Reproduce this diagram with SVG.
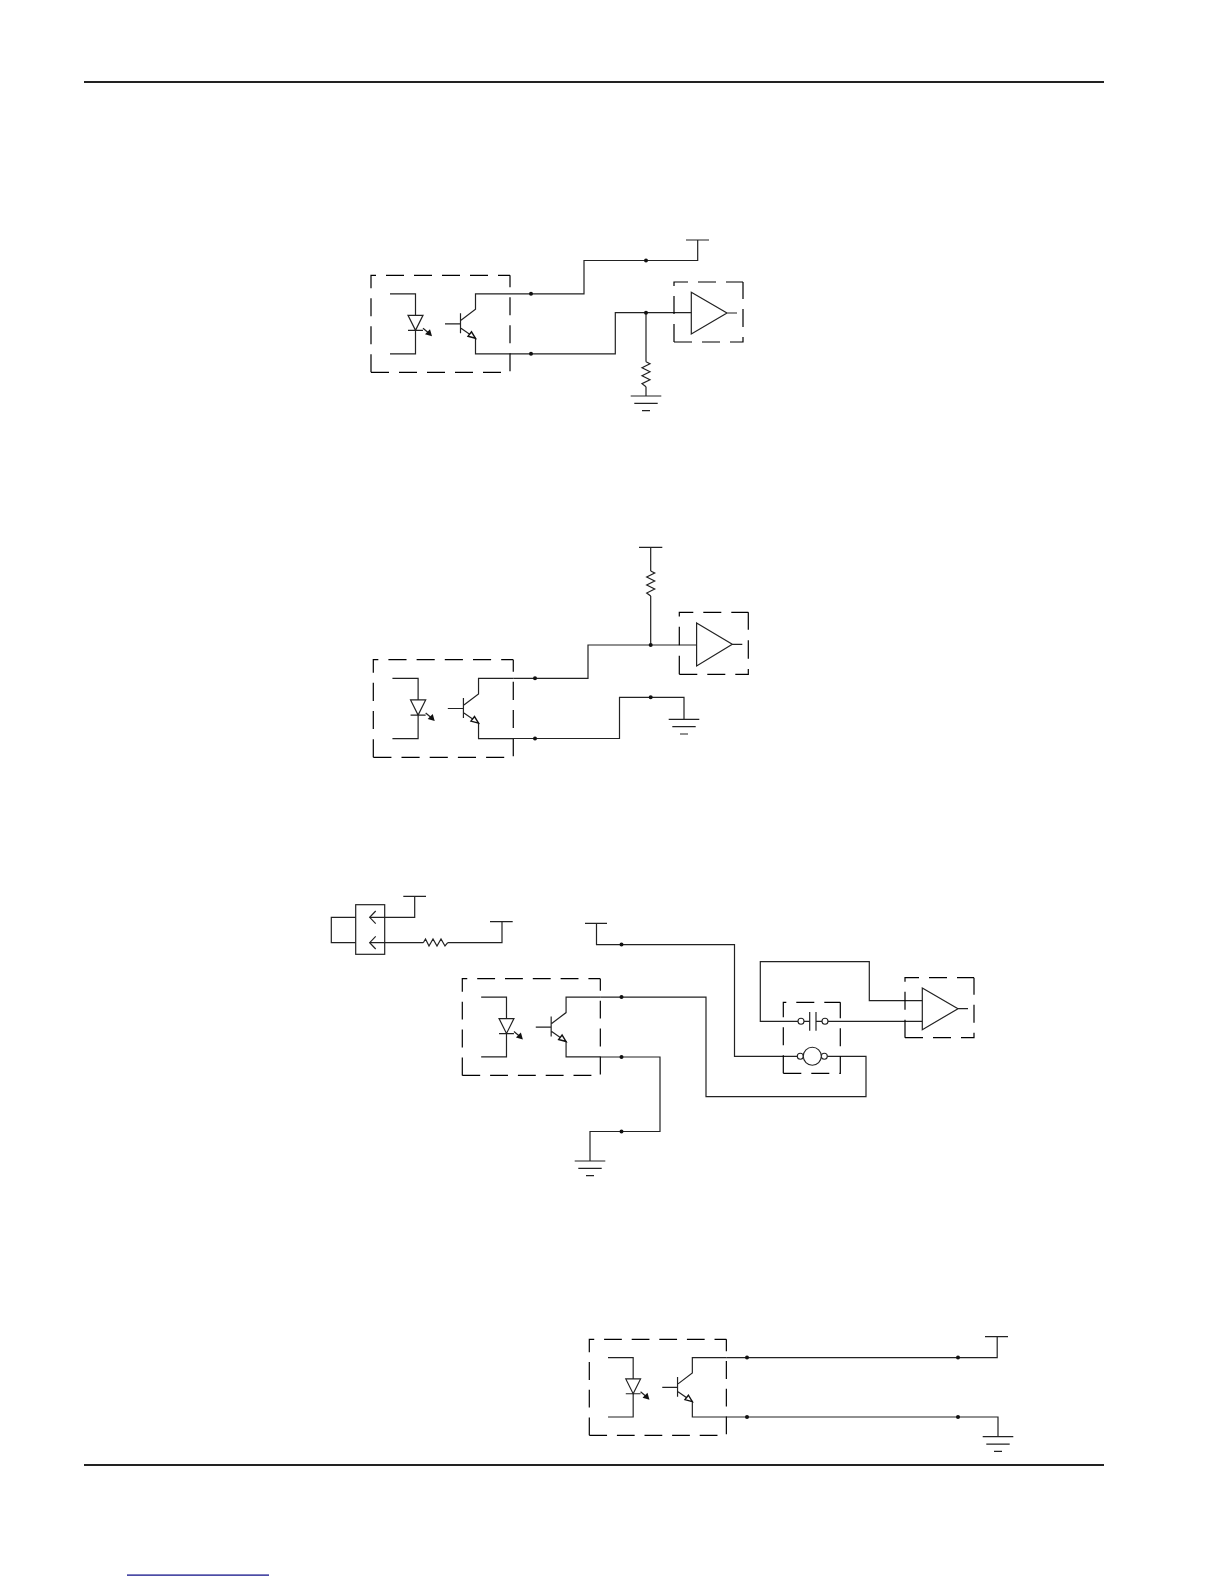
<svg xmlns="http://www.w3.org/2000/svg" width="1224" height="1584" viewBox="0 0 1224 1584">
<style>
.w{fill:none;stroke:#222;stroke-width:1.2}
.d{fill:none;stroke:#000;stroke-width:1.2;stroke-dasharray:18 10}
.n{fill:#111}
.h{fill:#111;stroke:none}
.o{fill:#fff;stroke:#222;stroke-width:1.1}
</style>
<defs>
<g id="opto">
<path class="d" d="M0 97V0H139"/>
<path class="d" d="M0 97H139V0"/>
<path class="w" d="M19 18.5H44.5V40M44.5 55V78.5H19"/>
<path class="w" d="M37 40H52L44.5 55ZM37 55H52M52 53L58 58"/>
<polygon class="h" points="61,61 54,59 59,54"/>
<path class="w" d="M74 48.5H89.5M89.5 38V58M90 45L104.5 34V18.5H139M90 53L104.5 63V78.5H139"/>
<polygon class="o" points="104.5,63 97,61 100.5,56.5" style="stroke:#111;stroke-width:1.4"/>
</g>
<g id="amp">
<path class="d" d="M0 60V0H69"/>
<path class="d" d="M0 60H69V0"/>
<path class="w" d="M17.3 10.3L53 31L17.3 52ZM53 31H63"/>
</g>
<g id="gnd">
<path class="w" d="M-15.3 0H15.3M-11.7 7.4H11.7M-4 14.7H4"/>
</g>
<path id="resv" class="w" d="M0 0L4 2L-4 6L4 10L-4 14L4 18L-4 22L0 25"/>
</defs>

<rect x="84" y="81" width="1020" height="2" fill="#222"/>
<rect x="84" y="1464" width="1020" height="2" fill="#222"/>
<rect x="127" y="1574.5" width="142" height="1.2" fill="#000080"/>

<g id="connectors">
<!-- circuit 1 -->
<path class="w" d="M510 293.8H584V260.5H697.7V240M686 240H709"/>
<path class="w" d="M510 353.8H615.3V312.7H691.3M646 312.7V361.7M646 386.7V396"/>
<!-- circuit 2 -->
<path class="w" d="M639 547.3H662.3M650.7 547.3V571M650.7 596V645"/>
<path class="w" d="M513.3 678.3H588V645H696"/>
<path class="w" d="M513.3 738.5H619.5V697.3H684V719.3"/>
<!-- circuit 3 -->
<path class="w" d="M600.3 997.1H706V1096.6H866V1056.3H827"/>
<path class="w" d="M600.3 1057H660V1131.5H590V1161"/>
<path class="w" d="M585 923.4H607M596.5 923.4V944.6H734.5V1056.3H797"/>
<path class="w" d="M798 1021.3H760.3V961.7H869.3V1000.7H922.3"/>
<path class="w" d="M828 1021.3H922.3"/>
<!-- circuit 4 -->
<path class="w" d="M726.3 1357.6H997.2V1336.6M985 1336.6H1008"/>
<path class="w" d="M726.3 1417H998V1436.7"/>
<!-- switch block wiring -->
<path class="w" d="M355.7 917.3H331.3V942.7H355.7"/>
<path class="w" d="M369.7 917.3H414.7V896.3M403.3 896.3H426"/>
<path class="w" d="M369.7 942.7H423.3M447.7 942.7H502V921.7M490 921.7H512.7"/>
</g>

<g id="circuit1">
<use id="opto1" href="#opto" transform="translate(371 275.3)"/>
<use id="amp1" href="#amp" x="674" y="282"/>
<use id="res1" href="#resv" x="646" y="361.7"/>
<use id="gnd1" href="#gnd" x="646" y="396"/>
<g id="nodes1" class="n"><circle cx="531" cy="293.8" r="2"/><circle cx="531" cy="353.8" r="2"/><circle cx="646" cy="260.5" r="2"/><circle cx="646" cy="312.7" r="2"/></g>
</g>

<g id="circuit2">
<use id="opto2" href="#opto" transform="translate(373.3 659.7) scale(1.007 1.006)"/>
<use id="amp2" href="#amp" transform="translate(679.3 612.3) scale(1 1.033)"/>
<use id="res2" href="#resv" x="650.7" y="571"/>
<use id="gnd2" href="#gnd" x="684" y="719.3"/>
<g id="nodes2" class="n"><circle cx="535" cy="678.3" r="2"/><circle cx="535" cy="738.5" r="2"/><circle cx="650.7" cy="645" r="2"/><circle cx="650.7" cy="697.3" r="2"/></g>
</g>

<g id="circuit3">
<g id="switch">
<rect class="w" x="355.7" y="904.7" width="29" height="49.6"/>
<path class="w" d="M375.7 911L369.7 917.3L375.7 923.6M375.7 936.4L369.7 942.7L375.7 949"/>
<path class="w" d="M423.3 942.7L425.5 939L429 946L433 939L437 946L441 939L445 946L447.7 942.7"/>
</g>
<use id="opto3" href="#opto" transform="translate(462.3 978.7) scale(.993 .997)"/>
<use id="amp3" href="#amp" x="905" y="977.7"/>
<use id="gnd3" href="#gnd" x="590" y="1161"/>
<g id="relay">
<path class="d" d="M783.3 1073.3V1002.3H840.3"/>
<path class="d" d="M783.3 1073.3H840.3V1002.3"/>
<path class="w" d="M804 1021.3H809.7M809.7 1012V1030.7M816 1012V1030.7M816 1021.3H822"/>
<circle class="o" cx="801" cy="1021.3" r="3"/>
<circle class="o" cx="825" cy="1021.3" r="3"/>
<circle class="o" cx="800.3" cy="1056.3" r="3"/>
<circle class="o" cx="824.3" cy="1056.3" r="3"/>
<circle class="o" cx="812.3" cy="1056.3" r="9"/>
</g>
<g id="nodes3" class="n"><circle cx="621.5" cy="944.6" r="2"/><circle cx="621.5" cy="997.1" r="2"/><circle cx="621.5" cy="1057" r="2"/><circle cx="621.5" cy="1131.5" r="2"/></g>
</g>

<g id="circuit4">
<use id="opto4" href="#opto" transform="translate(589.3 1339.3) scale(.986 .99)"/>
<use id="gnd4" href="#gnd" x="998" y="1436.7"/>
<g id="nodes4" class="n"><circle cx="747" cy="1357.6" r="2"/><circle cx="958" cy="1357.6" r="2"/><circle cx="747" cy="1417" r="2"/><circle cx="958" cy="1417" r="2"/></g>
</g>
</svg>
